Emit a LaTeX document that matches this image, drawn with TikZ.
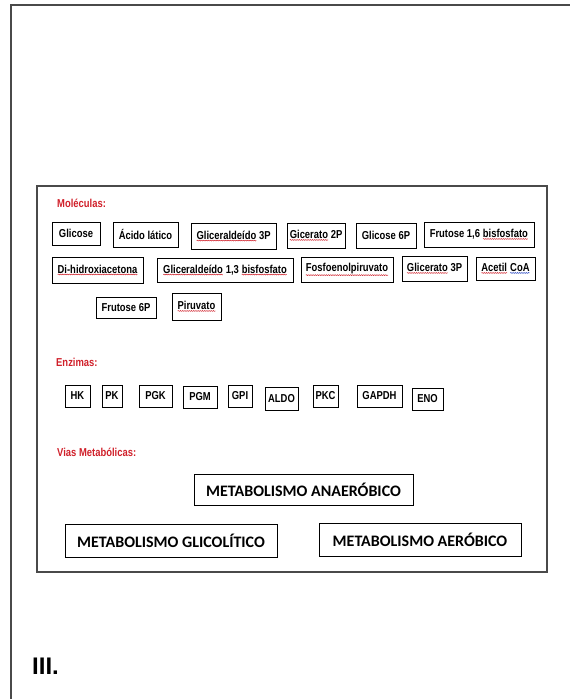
\documentclass[tikz,border=0pt]{standalone}
\usepackage{fontspec}
\setmainfont{Liberation Sans}
\newfontfamily\narrowfont[FakeStretch=0.82]{Liberation Sans}
\newfontfamily\calibrifont{Carlito}
\usetikzlibrary{positioning, decorations.pathmorphing}
\definecolor{cred}{HTML}{D0202A}
\definecolor{cblue}{HTML}{2040C0}
\definecolor{cframe}{HTML}{4A4A4A}
\tikzset{
  frame/.style={draw=cframe, line width=2pt},
  quadro/.style={draw=cframe, line width=1.3pt},
  secao/.style={anchor=west, inner sep=0pt, text=cred, font=\narrowfont\bfseries\fontsize{11.5}{13}\selectfont},
  molbox/.style 2 args={draw=black, line width=1pt, inner sep=0pt, minimum width=#1, minimum height=#2,
    font=\narrowfont\bfseries\fontsize{11.5}{13}\selectfont},
  viabox/.style 2 args={draw=black, line width=1pt, inner sep=0pt, minimum width=#1, minimum height=#2,
    font=\calibrifont\bfseries\fontsize{16}{18}\selectfont},
  squiggle/.style={line width=0.5pt, decorate, decoration={snake, amplitude=0.45pt, segment length=2.2pt}},
  palavra/.style={draw=none, inner sep=0pt, outer sep=0pt, minimum width=0pt, minimum height=0pt},
}
% word marked by the spell checker
\newcommand\spellmark[2][cred]{\tikz[baseline=(w.base)]{\node[palavra] (w) {#2};
  \draw[squiggle, #1] ([yshift=-1.2pt]w.south west) -- ([yshift=-1.2pt]w.south east);}}

\begin{document}
\begin{tikzpicture}[x=1pt, y=-1pt]
  \useasboundingbox (0,0) rectangle (570,699);
  \draw[frame] (570,5) -- (11,5) -- (11,699);
  \draw[quadro] (37,186) rectangle (547,572);

  % moleculas
  \node[secao] (tmol) at (57,203) {Moléculas:};
  \node[molbox={48}{23}] (glicose) at (76,233.5) {Glicose};
  \node[molbox={65}{25}] (lactico) at (145.5,234.5) {Ácido lático};
  \node[molbox={85}{26}] (gald3p) at (233.5,236) {\spellmark{Gliceraldeído} 3P};
  \node[molbox={58}{25}] (gic2p) at (316,235.5) {\spellmark{Gicerato} 2P};
  \node[molbox={60}{25}] (glic6p) at (386,235.5) {Glicose 6P};
  \node[molbox={110}{25}] (fru16) at (479,234.5) {Frutose 1,6 \spellmark{bisfosfato}};
  \node[molbox={91}{26}] (dihidro) at (97.5,270) {\spellmark{Di-hidroxiacetona}};
  \node[molbox={136}{24}] (gald13) at (225,270) {\spellmark{Gliceraldeído} 1,3 \spellmark{bisfosfato}};
  \node[molbox={92}{25}] (pep) at (347,269.5) {\spellmark{Fosfoenolpiruvato}};
  \node[molbox={65}{25}] (glic3p) at (434.5,268.5) {\spellmark{Glicerato} 3P};
  \node[molbox={59}{23}] (acetil) at (505.5,268.5) {\spellmark{Acetil} \spellmark[cblue]{CoA}};
  \node[molbox={60}{21}] (fru6p) at (126,307.5) {Frutose 6P};
  \node[molbox={49}{27}] (piruvato) at (196.5,306.5) {\spellmark{Piruvato}};

  % enzimas
  \node[secao] (tenz) at (56,362) {Enzimas:};
  \node[molbox={25}{22}] (hk) at (77.5,396) {HK};
  \node[molbox={20}{22}] (pk) at (112,396) {PK};
  \node[molbox={33}{22}] (pgk) at (155.5,396) {PGK};
  \node[molbox={34}{22}] (pgm) at (200,397) {PGM};
  \node[molbox={24}{22}] (gpi) at (240,396) {GPI};
  \node[molbox={33}{23}] (aldo) at (281.5,398.5) {ALDO};
  \node[molbox={25}{22}] (pkc) at (325.5,396) {PKC};
  \node[molbox={45}{22}] (gapdh) at (379.5,396) {GAPDH};
  \node[molbox={31}{22}] (eno) at (427.5,399) {ENO};

  % vias metabolicas
  \node[secao] (tvias) at (57,452) {Vias Metabólicas:};
  \node[viabox={219}{31}] (anaerob) at (303.5,489.5) {METABOLISMO ANAERÓBICO};
  \node[viabox={212}{33}] (glicol) at (171,540.5) {METABOLISMO GLICOLÍTICO};
  \node[viabox={202}{33}] (aerob) at (420,539.5) {METABOLISMO AERÓBICO};

  \node[anchor=west, inner sep=0pt, font=\bfseries\fontsize{24}{26}\selectfont] (num) at (32,666) {III.};
\end{tikzpicture}
\end{document}
